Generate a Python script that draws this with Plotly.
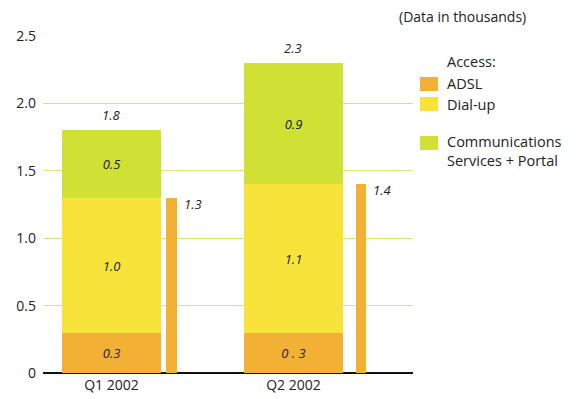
import plotly.graph_objects as go

# Quarterly access figures (thousands)
quarters = ["Q1 2002", "Q2 2002"]
adsl = [0.3, 0.3]
dialup = [1.0, 1.1]
comms = [0.5, 0.9]
totals = [1.8, 2.3]
adsl_total = [1.3, 1.4]

adsl_labels = ["0.3", "0 . 3"]
dialup_labels = ["1.0", "1.1"]
comms_labels = ["0.5", "0.9"]

C_ADSL = "#F2B035"
C_DIAL = "#F7E33A"
C_COMM = "#D0E034"
C_GRID = "#D6E66A"
FONT = "Open Sans, Noto Sans, sans-serif"
TXT = "#222222"

W, H = 576, 399
L, R, T, B = 43, 413, 35, 373  # plot area edges in pixels


def px(x):
    return (x - L) / (R - L)


def py(y):
    return (B - y) / (B - T)


xpos = [0, 1]
thin_x = [0.33, 1.37]
wide_w = 0.545
thin_w = 0.056

fig = go.Figure()
seg_font = dict(family=FONT, size=13, color=TXT, style="italic")
for vals, labels, color, name in [
    (adsl, adsl_labels, C_ADSL, "ADSL"),
    (dialup, dialup_labels, C_DIAL, "Dial-up"),
    (comms, comms_labels, C_COMM, "Communications Services + Portal"),
]:
    fig.add_trace(go.Bar(
        x=xpos, y=vals, width=wide_w, name=name,
        marker=dict(color=color, line=dict(width=0)),
        text=labels, textposition="inside", insidetextanchor="middle",
        textfont=seg_font, textangle=0, showlegend=False,
    ))

fig.add_trace(go.Bar(
    x=thin_x, y=adsl_total, width=thin_w, name="ADSL total",
    marker=dict(color=C_ADSL, line=dict(width=0)), showlegend=False,
))

annotations = []
for x, t in zip(xpos, totals):
    annotations.append(dict(x=x, y=t, xref="x", yref="y", text=f"{t:.1f}",
                            showarrow=False, yanchor="bottom", yshift=4,
                            font=seg_font))
for x, t in zip(thin_x, adsl_total):
    annotations.append(dict(x=x + thin_w / 2, y=t, xref="x", yref="y", text=f"{t:.1f}",
                            showarrow=False, xanchor="left", yanchor="middle",
                            xshift=5, yshift=-6, font=seg_font))

# Unit note
annotations.append(dict(x=px(528), y=py(17), xref="paper", yref="paper",
                        text="(Data in thousands)", showarrow=False,
                        xanchor="right", yanchor="middle",
                        font=dict(family=FONT, size=14, color=TXT)))

# Legend built from swatches and labels
legend_items = [
    ("ADSL", C_ADSL, 84),
    ("Dial-up", C_DIAL, 104),
    ("Communications<br>Services + Portal", C_COMM, 143),
]
LEG_FONT = dict(family=FONT, size=14.5, color=TXT)
shapes = []
annotations.append(dict(x=px(445), y=py(62), xref="paper", yref="paper", text="Access:",
                        showarrow=False, xanchor="left", yanchor="middle", font=LEG_FONT))
for text, color, yc in legend_items:
    shapes.append(dict(type="rect", xref="paper", yref="paper",
                       x0=px(420), x1=px(438), y0=py(yc + 7), y1=py(yc - 7),
                       fillcolor=color, line=dict(width=0)))
    ytxt = yc + 8 if "<br>" in text else yc
    annotations.append(dict(x=px(445), y=py(ytxt), xref="paper", yref="paper", text=text,
                            showarrow=False, xanchor="left", yanchor="middle", align="left",
                            font=LEG_FONT))

unit = 134.8  # pixels per thousand
fig.update_layout(
    width=W, height=H,
    margin=dict(l=L, r=W - R, t=T, b=H - B),
    paper_bgcolor="white", plot_bgcolor="white",
    barmode="stack", bargap=0,
    annotations=annotations,
    shapes=shapes,
    font=dict(family=FONT, size=13, color=TXT),
    xaxis=dict(range=[-0.376, 1.657], tickvals=xpos, ticktext=quarters,
               showgrid=False, zeroline=False, showline=False, ticks="",
               ticklabelstandoff=2, automargin=False,
               tickfont=dict(family=FONT, size=14, color=TXT)),
    yaxis=dict(range=[0, (B - T) / unit], tickvals=[0, 0.5, 1.0, 1.5, 2.0, 2.5],
               ticktext=["0", "0.5", "1.0", "1.5", "2.0", "2.5"],
               showgrid=True, gridcolor=C_GRID, gridwidth=1,
               zeroline=True, zerolinecolor="#111111", zerolinewidth=2,
               ticks="", ticklabelstandoff=6, automargin=False,
               tickfont=dict(family=FONT, size=14, color=TXT)),
)

fig.write_html("out.html")
